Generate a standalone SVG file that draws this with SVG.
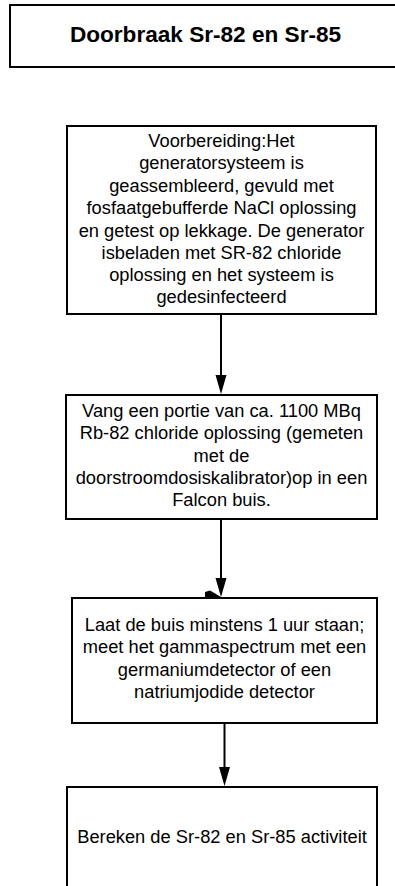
<svg xmlns="http://www.w3.org/2000/svg" width="395" height="886" viewBox="0 0 395 886">
<defs>
<style>
.box{fill:#fff;stroke:#000;stroke-width:2}
.t{font-family:"Liberation Sans",Arial,sans-serif;font-size:18.3px;fill:#000;text-anchor:middle}
.title{font-family:"Liberation Sans",Arial,sans-serif;font-size:22.6px;font-weight:bold;fill:#000;text-anchor:middle}
.c{stroke:#000;stroke-width:2;fill:none}
.h{fill:#000}
</style>
</defs>
<rect width="395" height="886" fill="#fff"/>
<g id="title">
<rect class="box" x="10" y="5" width="400" height="62"/>
<text class="title" x="205.5" y="42">Doorbraak Sr-82 en Sr-85</text>
</g>
<g id="connectors">
<line class="c" x1="221" y1="314" x2="221" y2="375"/>
<path class="h" d="M215.5,375 L226.5,375 L221,394 Z"/>
<line class="c" x1="221" y1="519" x2="221" y2="578"/>
<path class="h" d="M215.5,578 L226.5,578 L221,597 Z"/>
<path class="h" d="M205,592 L210,590.5 L221,597 L205,597 Z"/>
<line class="c" x1="224.5" y1="723" x2="224.5" y2="767"/>
<path class="h" d="M219,767 L230,767 L224.5,786 Z"/>
</g>
<g id="n1">
<rect class="box" x="67" y="126" width="309" height="188"/>
<text class="t" x="221.5" y="147">Voorbereiding:Het</text>
<text class="t" x="221.5" y="169.3">generatorsysteem is</text>
<text class="t" x="221.5" y="191.6">geassembleerd, gevuld met</text>
<text class="t" x="221.5" y="214">fosfaatgebufferde NaCl oplossing</text>
<text class="t" x="221.5" y="236.5">en getest op lekkage. De generator</text>
<text class="t" x="221.5" y="258.5">isbeladen met SR-82 chloride</text>
<text class="t" x="221.5" y="280.8">oplossing en het systeem is</text>
<text class="t" x="221.5" y="303.1">gedesinfecteerd</text>
</g>
<g id="n2">
<rect class="box" x="66" y="395" width="311" height="124"/>
<text class="t" x="221.5" y="417">Vang een portie van ca. 1100 MBq</text>
<text class="t" x="221.5" y="439.3">Rb-82 chloride oplossing (gemeten</text>
<text class="t" x="221.5" y="461.6">met de</text>
<text class="t" x="221.5" y="483.9">doorstroomdosiskalibrator)op in een</text>
<text class="t" x="221.5" y="506.2">Falcon buis.</text>
</g>
<g id="n3">
<rect class="box" x="72" y="598" width="305" height="125"/>
<text class="t" x="224.5" y="631">Laat de buis minstens 1 uur staan;</text>
<text class="t" x="224.5" y="653.3">meet het gammaspectrum met een</text>
<text class="t" x="224.5" y="675.6">germaniumdetector of een</text>
<text class="t" x="224.5" y="697.9">natriumjodide detector</text>
</g>
<g id="n4">
<rect class="box" x="67" y="787" width="310" height="120"/>
<text class="t" x="222" y="843.3">Bereken de Sr-82 en Sr-85 activiteit</text>
</g>
</svg>
